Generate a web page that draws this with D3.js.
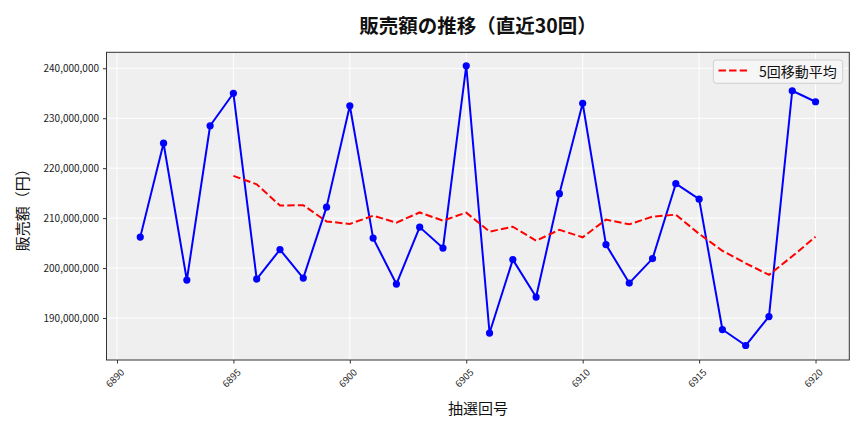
<!DOCTYPE html>
<html>
<head>
<meta charset="utf-8">
<script src="https://cdn.jsdelivr.net/npm/d3@7"></script>
<style>
  body { margin: 0; background: #fff; }
  text { font-family: 'Noto Sans CJK JP', 'Noto Sans', sans-serif; }
</style>
</head>
<body>
<script>
const width = 864
const height = 432
const margin = { top: 52.3, right: 14.7, bottom: 72, left: 106.5 }

// 抽選回号
const draws = [
  6891, 6892, 6893, 6894, 6895, 6896, 6897, 6898, 6899, 6900,
  6901, 6902, 6903, 6904, 6905, 6906, 6907, 6908, 6909, 6910,
  6911, 6912, 6913, 6914, 6915, 6916, 6917, 6918, 6919, 6920
]
// 販売額
const sales = [
  206200000, 225000000, 197600000, 228500000, 235000000,
  197800000, 203700000, 198000000, 212200000, 232500000,
  206000000, 196800000, 208200000, 204000000, 240500000,
  187000000, 201700000, 194200000, 214900000, 233000000,
  204700000, 197000000, 201900000, 216900000, 213800000,
  187700000, 184500000, 190300000, 235500000, 233300000
]
// 5回移動平均 (6895 から)
const maDraws = [
  6895, 6896, 6897, 6898, 6899, 6900, 6901, 6902, 6903, 6904, 6905, 6906, 6907,
  6908, 6909, 6910, 6911, 6912, 6913, 6914, 6915, 6916, 6917, 6918, 6919, 6920
]
const maValues = [
  218460000, 216780000, 212520000, 212600000, 209340000, 208840000, 210480000,
  209100000, 211140000, 209500000, 211100000, 207300000, 208280000, 205480000,
  207660000, 206160000, 209700000, 208760000, 210300000, 210700000, 206860000,
  203460000, 200960000, 198640000, 202360000, 206260000
]
const xTicks = [6890, 6895, 6900, 6905, 6910, 6915, 6920]
const yTicks = [190000000, 200000000, 210000000, 220000000, 230000000, 240000000]

const svg = d3.select('body')
  .append('svg')
  .attr('width', width)
  .attr('height', height)

const plotW = width - margin.left - margin.right
const plotH = height - margin.top - margin.bottom

const x = d3.scaleLinear()
  .domain([6889.55, 6921.45])
  .range([margin.left, margin.left + plotW])
const y = d3.scaleLinear()
  .domain([181600000, 243200000])
  .range([margin.top + plotH, margin.top])

// plot background
svg.append('rect')
  .attr('x', margin.left)
  .attr('y', margin.top)
  .attr('width', plotW)
  .attr('height', plotH)
  .attr('fill', '#efefef')

// grid
svg.append('g')
  .selectAll('line.gx')
  .data(xTicks)
  .enter()
  .append('line')
  .attr('x1', d => x(d)).attr('x2', d => x(d))
  .attr('y1', margin.top).attr('y2', margin.top + plotH)
  .attr('stroke', '#fff').attr('stroke-width', 1)
svg.append('g')
  .selectAll('line.gy')
  .data(yTicks)
  .enter()
  .append('line')
  .attr('x1', margin.left).attr('x2', margin.left + plotW)
  .attr('y1', d => y(d)).attr('y2', d => y(d))
  .attr('stroke', '#fff').attr('stroke-width', 1)

// sales line
const salesData = draws.map((d, i) => ({ x: d, y: sales[i] }))
const line = d3.line().x(d => x(d.x)).y(d => y(d.y))
svg.append('path')
  .datum(salesData)
  .attr('d', line)
  .attr('fill', 'none')
  .attr('stroke', '#0000ff')
  .attr('stroke-width', 2)
  .attr('stroke-linejoin', 'round')
svg.append('g')
  .selectAll('circle')
  .data(salesData)
  .enter()
  .append('circle')
  .attr('cx', d => x(d.x))
  .attr('cy', d => y(d.y))
  .attr('r', 3.6)
  .attr('fill', '#0000ff')

// moving average
const maData = maDraws.map((d, i) => ({ x: d, y: maValues[i] }))
svg.append('path')
  .datum(maData)
  .attr('d', line)
  .attr('fill', 'none')
  .attr('stroke', '#ff0000')
  .attr('stroke-width', 2)
  .attr('stroke-dasharray', '7.4,3.2')

// frame
svg.append('rect')
  .attr('x', margin.left)
  .attr('y', margin.top)
  .attr('width', plotW)
  .attr('height', plotH)
  .attr('fill', 'none')
  .attr('stroke', '#333')
  .attr('stroke-width', 1)

// axes
const xAxis = svg.append('g')
  .attr('transform', `translate(0,${margin.top + plotH})`)
  .call(d3.axisBottom(x).tickValues(xTicks).tickSize(3.5).tickFormat(d3.format('d')))
xAxis.select('.domain').remove()
xAxis.selectAll('line').attr('stroke', '#333')
xAxis.selectAll('text')
  .attr('font-size', '9.5px')
  .attr('fill', '#222')
  .attr('text-anchor', 'end')
  .attr('dy', null)
  .attr('y', 0)
  .attr('transform', 'translate(7.5,13) rotate(-45)')

const yAxis = svg.append('g')
  .attr('transform', `translate(${margin.left},0)`)
  .call(d3.axisLeft(y).tickValues(yTicks).tickSize(3.5).tickPadding(4).tickFormat(d3.format(',')))
yAxis.select('.domain').remove()
yAxis.selectAll('line').attr('stroke', '#333')
yAxis.selectAll('text')
  .attr('font-size', '10px')
  .attr('fill', '#222')

// title and labels
svg.append('text')
  .attr('x', margin.left + plotW / 2)
  .attr('y', 24)
  .attr('dominant-baseline', 'central')
  .attr('text-anchor', 'middle')
  .attr('font-size', '19.5px')
  .attr('font-weight', 'bold')
  .attr('fill', '#111')
  .text('販売額の推移（直近30回）')

svg.append('text')
  .attr('x', margin.left + plotW / 2)
  .attr('y', 407)
  .attr('dominant-baseline', 'central')
  .attr('text-anchor', 'middle')
  .attr('font-size', '15px')
  .attr('fill', '#111')
  .text('抽選回号')

svg.append('text')
  .attr('transform', `translate(21,${margin.top + plotH / 2}) rotate(-90)`)
  .attr('dominant-baseline', 'central')
  .attr('text-anchor', 'middle')
  .attr('font-size', '15px')
  .attr('fill', '#111')
  .text('販売額（円）')

// legend
const legend = svg.append('g')
legend.append('rect')
  .attr('x', 713.3).attr('y', 60)
  .attr('width', 129.4).attr('height', 23.3)
  .attr('rx', 3)
  .attr('fill', '#f6f6f6')
  .attr('stroke', '#d0d0d0')
legend.append('line')
  .attr('x1', 718.5).attr('x2', 747)
  .attr('y1', 70.5).attr('y2', 70.5)
  .attr('stroke', '#ff0000')
  .attr('stroke-width', 2)
  .attr('stroke-dasharray', '7.4,3.2')
legend.append('text')
  .attr('x', 759)
  .attr('y', 71)
  .attr('dominant-baseline', 'central')
  .attr('font-size', '14px')
  .attr('fill', '#111')
  .text('5回移動平均')
</script>
</body>
</html>
